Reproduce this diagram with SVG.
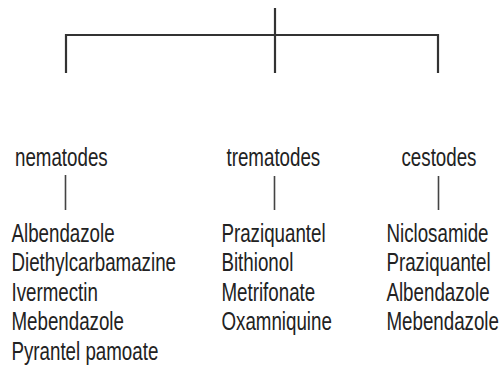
<svg xmlns="http://www.w3.org/2000/svg" width="504" height="372" viewBox="0 0 504 372">
<style>
.t{font-family:"Liberation Sans",Arial,Helvetica,sans-serif;font-size:25px;fill:#222}
.c{stroke:#333;stroke-width:2.2;fill:none}
.s{stroke:#444;stroke-width:1.6;fill:none}
</style>
<rect width="504" height="372" fill="#fff"/>
<g id="connectors">
<path class="c" d="M275 8V73M66 73V35H438V73"/>
<path class="s" d="M65.5 175V210M274.5 176V210M438.5 176V210"/>
</g>
<g id="nematodes" transform="scale(0.75,1)">
<text class="t" x="20" y="166.5">nematodes</text>
<text class="t" x="15.3" y="242">Albendazole</text>
<text class="t" x="15.3" y="271.5">Diethylcarbamazine</text>
<text class="t" x="15.3" y="301">Ivermectin</text>
<text class="t" x="15.3" y="330.5">Mebendazole</text>
<text class="t" x="15.3" y="360">Pyrantel pamoate</text>
</g>
<g id="trematodes" transform="scale(0.75,1)">
<text class="t" x="302" y="166.5">trematodes</text>
<text class="t" x="295.3" y="242">Praziquantel</text>
<text class="t" x="295.3" y="271.5">Bithionol</text>
<text class="t" x="295.3" y="301">Metrifonate</text>
<text class="t" x="295.3" y="330.5">Oxamniquine</text>
</g>
<g id="cestodes" transform="scale(0.75,1)">
<text class="t" x="535.3" y="166.5">cestodes</text>
<text class="t" x="515.3" y="242">Niclosamide</text>
<text class="t" x="515.3" y="271.5">Praziquantel</text>
<text class="t" x="515.3" y="301">Albendazole</text>
<text class="t" x="515.3" y="330.5">Mebendazole</text>
</g>
</svg>
